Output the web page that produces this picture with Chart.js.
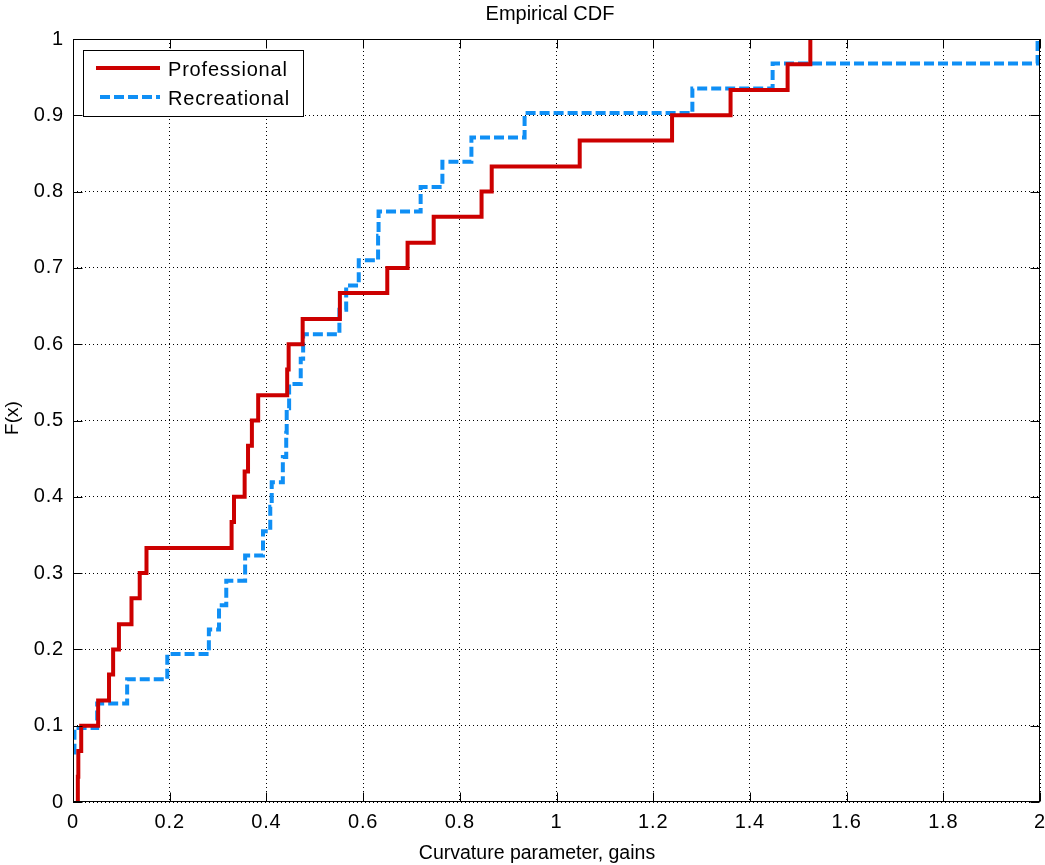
<!DOCTYPE html>
<html><head><meta charset="utf-8">
<script src="https://cdn.jsdelivr.net/npm/chart.js@4"></script>
<style>html,body{margin:0;padding:0;background:#fff;}#wrap{width:1045px;height:865px;}</style>
</head><body><div id="wrap"><canvas id="c" width="1045" height="865"></canvas></div>
<script>
const chartTitle = 'Empirical CDF';
const xAxisLabel = 'Curvature parameter, gains';
const yAxisLabel = 'F(x)';
const seriesNames = ['Professional', 'Recreational'];
const xTickValues = [0, 0.2, 0.4, 0.6, 0.8, 1, 1.2, 1.4, 1.6, 1.8, 2];
const yTickValues = [0, 0.1, 0.2, 0.3, 0.4, 0.5, 0.6, 0.7, 0.8, 0.9, 1];

// Professional: step positions and CDF level after each step
const proX = [0.009, 0.010, 0.011, 0.017, 0.052, 0.0745, 0.083, 0.095, 0.121, 0.138, 0.152,
  0.328, 0.333, 0.355, 0.362, 0.370, 0.383, 0.443, 0.446, 0.475, 0.552, 0.650, 0.692,
  0.746, 0.845, 0.866, 1.048, 1.239, 1.360, 1.478, 1.525];
const proF = [0, 0.033, 0.067, 0.100, 0.133, 0.167, 0.200, 0.233, 0.267, 0.300, 0.333,
  0.367, 0.400, 0.433, 0.467, 0.500, 0.533, 0.567, 0.600, 0.633, 0.667, 0.700, 0.733,
  0.767, 0.800, 0.833, 0.867, 0.900, 0.933, 0.967, 1.000];

// Recreational
const recX = [0, 0.003, 0.050, 0.112, 0.195, 0.281, 0.302, 0.317, 0.356, 0.393, 0.408,
  0.411, 0.434, 0.441, 0.442, 0.447, 0.471, 0.476, 0.551, 0.565, 0.591, 0.631, 0.632,
  0.719, 0.764, 0.824, 0.934, 1.281, 1.447, 1.995];
const recF = [0.065, 0.097, 0.129, 0.161, 0.194, 0.226, 0.258, 0.290, 0.323, 0.355, 0.387,
  0.419, 0.452, 0.484, 0.516, 0.548, 0.581, 0.613, 0.645, 0.677, 0.710, 0.742, 0.774,
  0.806, 0.839, 0.871, 0.903, 0.935, 0.968, 1.000];

const RED = '#CC0000';
const BLUE = '#0F8FF5';
const FONT = '"Liberation Sans", Arial, Helvetica, sans-serif';

function pts(xs, ys) { return xs.map((x, i) => ({ x: x, y: ys[i] })); }

const spacing = {
  id: 'spacing',
  beforeDraw(chart) { chart.ctx.letterSpacing = '0.8px'; },
  afterDraw(chart) { chart.ctx.letterSpacing = '0px'; }
};

const decor = {
  id: 'decor',
  afterDraw(chart) {
    const ctx = chart.ctx;
    const a = chart.chartArea;
    const sx = chart.scales.x, sy = chart.scales.y;
    ctx.save();
    // axes box
    ctx.strokeStyle = '#000';
    ctx.lineWidth = 1;
    ctx.setLineDash([]);
    const L = Math.round(a.left) + 0.5, R = Math.round(a.right) - 0.5;
    const T = Math.round(a.top) + 0.5, B = Math.round(a.bottom) - 0.5;
    ctx.strokeRect(L, T, R - L, B - T);
    // inward tick marks
    const tl = 9;
    ctx.beginPath();
    xTickValues.forEach(v => {
      const px = Math.round(sx.getPixelForValue(v)) + 0.5;
      ctx.moveTo(px, B); ctx.lineTo(px, B - tl);
      ctx.moveTo(px, T); ctx.lineTo(px, T + tl);
    });
    yTickValues.forEach(v => {
      const py = Math.round(sy.getPixelForValue(v)) + 0.5;
      ctx.moveTo(L, py); ctx.lineTo(L + tl, py);
      ctx.moveTo(R, py); ctx.lineTo(R - tl, py);
    });
    ctx.stroke();

    // legend
    const lx = 83.5, ly = 50.5, lw = 220, lh = 66;
    ctx.fillStyle = '#fff';
    ctx.fillRect(lx, ly, lw, lh);
    ctx.strokeStyle = '#000';
    ctx.lineWidth = 1;
    ctx.strokeRect(lx, ly, lw, lh);
    const rows = [68, 97];
    chart.data.datasets.forEach((ds, i) => {
      ctx.save();
      ctx.strokeStyle = ds.borderColor;
      ctx.lineWidth = ds.borderWidth;
      ctx.setLineDash(ds.borderDash || []);
      ctx.lineCap = 'butt';
      ctx.beginPath();
      ctx.moveTo(i === 0 ? 96 : 100, rows[i]);
      ctx.lineTo(160, rows[i]);
      ctx.stroke();
      ctx.restore();
      ctx.save();
      ctx.letterSpacing = '0.8px';
      ctx.fillStyle = '#000';
      ctx.font = '20px ' + FONT;
      ctx.textAlign = 'left';
      ctx.textBaseline = 'middle';
      ctx.fillText(ds.label, 168, rows[i] + 2);
      ctx.restore();
    });

    // title and axis labels
    ctx.letterSpacing = '0px';
    ctx.fillStyle = '#000';
    ctx.textAlign = 'center';
    ctx.textBaseline = 'middle';
    ctx.font = '20px ' + FONT;
    ctx.fillText(chartTitle, 550, 14);
    ctx.font = '19.5px ' + FONT;
    ctx.fillText(xAxisLabel, 537, 854);
    ctx.save();
    ctx.translate(13, 418);
    ctx.rotate(-Math.PI / 2);
    ctx.font = '19px ' + FONT;
    ctx.fillText(yAxisLabel, 0, 0);
    ctx.restore();
    ctx.restore();
  }
};

new Chart(document.getElementById('c'), {
  type: 'line',
  data: {
    datasets: [
      {
        label: seriesNames[0],
        data: pts(proX, proF),
        borderColor: RED,
        borderWidth: 4,
        stepped: 'before',
        pointRadius: 0,
        fill: false,
        borderJoinStyle: 'miter',
        borderCapStyle: 'butt'
      },
      {
        label: seriesNames[1],
        data: pts(recX, recF),
        borderColor: BLUE,
        borderWidth: 4,
        borderDash: [10, 4],
        stepped: 'before',
        pointRadius: 0,
        fill: false,
        borderJoinStyle: 'miter',
        borderCapStyle: 'butt'
      }
    ]
  },
  options: {
    responsive: false,
    animation: false,
    devicePixelRatio: 1,
    layout: { padding: { top: 39, right: 5, left: 0, bottom: 0 } },
    plugins: { legend: { display: false }, tooltip: { enabled: false }, title: { display: false } },
    scales: {
      x: {
        type: 'linear',
        min: 0, max: 2,
        afterBuildTicks: s => { s.ticks = xTickValues.map(v => ({ value: v })); },
        afterFit: s => { s.height = 63; s.paddingLeft = 0; s.paddingRight = 0; },
        ticks: {
          color: '#000',
          padding: 8,
          maxRotation: 0,
          autoSkip: false,
          font: { family: FONT, size: 20 },
          callback: v => String(Math.round(v * 10) / 10)
        },
        grid: { color: '#000', lineWidth: 1, drawTicks: false },
        border: { display: false, dash: [1, 3] }
      },
      y: {
        type: 'linear',
        min: 0, max: 1,
        afterBuildTicks: s => { s.ticks = yTickValues.map(v => ({ value: v })); },
        afterFit: s => { s.width = 73; s.paddingTop = 0; s.paddingBottom = 0; },
        ticks: {
          color: '#000',
          padding: 9,
          autoSkip: false,
          font: { family: FONT, size: 20 },
          callback: v => String(Math.round(v * 10) / 10)
        },
        grid: { color: '#000', lineWidth: 1, drawTicks: false },
        border: { display: false, dash: [1, 3] }
      }
    }
  },
  plugins: [spacing, decor]
});
</script>
</body></html>
